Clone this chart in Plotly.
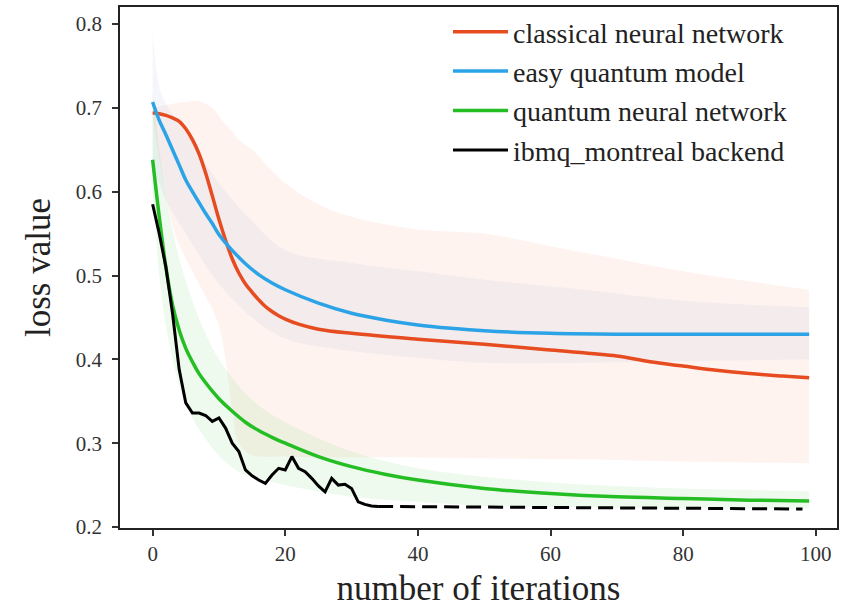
import plotly.graph_objects as go

# ---------------- data ----------------
cnn_x = [0, 1, 2, 3, 4, 5, 6, 7, 8, 9, 10, 11, 12, 13, 14, 15, 16, 17, 18, 19, 20,
         22, 25, 30, 40, 50, 60, 70, 75, 80, 85, 90, 95, 99]
cnn_y = [0.694, 0.693, 0.691, 0.688, 0.684, 0.675, 0.662, 0.645, 0.622, 0.595, 0.567,
         0.542, 0.520, 0.503, 0.490, 0.480, 0.471, 0.463, 0.457, 0.452, 0.448,
         0.442, 0.436, 0.431, 0.424, 0.418, 0.411, 0.404, 0.397, 0.392, 0.387,
         0.383, 0.380, 0.378]
cnn_band_x = [0, 3, 5, 7, 9, 10, 11, 12, 13, 15, 20, 25, 30, 40, 50, 60, 70, 80, 90, 99]
cnn_upper = [0.700, 0.705, 0.707, 0.708, 0.700, 0.690, 0.680, 0.672, 0.662, 0.650,
             0.610, 0.585, 0.570, 0.555, 0.550, 0.535, 0.520, 0.505, 0.493, 0.483]
cnn_lower = [0.690, 0.560, 0.520, 0.490, 0.460, 0.440, 0.400, 0.340, 0.300, 0.286,
             0.284, 0.283, 0.283, 0.283, 0.282, 0.281, 0.280, 0.278, 0.277, 0.276]

eqm_x = [0, 1, 2, 3, 4, 5, 6, 7, 8, 9, 10, 11, 12, 14, 16, 18, 20, 25, 30, 35, 40,
         45, 50, 60, 70, 80, 99]
eqm_y = [0.707, 0.685, 0.668, 0.650, 0.632, 0.614, 0.600, 0.587, 0.574, 0.562, 0.549,
         0.539, 0.530, 0.514, 0.501, 0.491, 0.483, 0.467, 0.455, 0.447, 0.441,
         0.437, 0.434, 0.431, 0.430, 0.430, 0.430]
eqm_band_x = [0, 1, 2, 5, 10, 15, 20, 30, 40, 50, 65, 80, 99]
eqm_upper = [0.790, 0.725, 0.705, 0.670, 0.610, 0.565, 0.530, 0.515, 0.505, 0.495,
             0.483, 0.470, 0.462]
eqm_lower = [0.630, 0.610, 0.590, 0.550, 0.490, 0.450, 0.425, 0.410, 0.402, 0.396,
             0.396, 0.398, 0.400]

qnn_x = [0, 1, 2, 3, 4, 5, 6, 7, 8, 9, 10, 12, 14, 16, 18, 20, 25, 30, 35, 40, 50,
         60, 70, 80, 90, 99]
qnn_y = [0.638, 0.570, 0.510, 0.465, 0.435, 0.413, 0.397, 0.383, 0.372, 0.362, 0.353,
         0.338, 0.325, 0.315, 0.307, 0.300, 0.284, 0.272, 0.263, 0.256, 0.246,
         0.240, 0.236, 0.234, 0.232, 0.231]
qnn_band_x = [0, 1, 2, 3, 4, 6, 8, 10, 13, 16, 20, 30, 40, 50, 60, 70, 80, 99]
qnn_upper = [0.720, 0.650, 0.595, 0.555, 0.520, 0.470, 0.430, 0.400, 0.368, 0.345,
             0.325, 0.290, 0.270, 0.260, 0.253, 0.249, 0.246, 0.243]
qnn_lower = [0.600, 0.500, 0.440, 0.400, 0.370, 0.330, 0.305, 0.285, 0.266, 0.258,
             0.250, 0.236, 0.230, 0.225, 0.224, 0.223, 0.222, 0.222]

ibm_x = list(range(0, 35))
ibm_y = [0.585, 0.550, 0.510, 0.455, 0.388, 0.348, 0.336, 0.336, 0.333, 0.326,
         0.330, 0.318, 0.300, 0.290, 0.268, 0.261, 0.256, 0.252, 0.262, 0.270,
         0.268, 0.284, 0.270, 0.266, 0.258, 0.249, 0.242, 0.258, 0.250, 0.251,
         0.246, 0.230, 0.227, 0.225, 0.2245]
ibm_ext_x = [34, 50, 70, 98]
ibm_ext_y = [0.2245, 0.2235, 0.2228, 0.2215]

labels = ["classical neural network", "easy quantum model",
          "quantum neural network", "ibmq_montreal backend"]

# ---------------- styling ----------------
RED = "rgb(230,76,32)"
BLUE = "rgb(44,163,230)"
GREEN = "rgb(36,190,36)"
BLACK = "rgb(0,0,0)"
FONT = "Liberation Serif"

fig = go.Figure()


def band(xs, lo, hi, rgba):
    fig.add_trace(go.Scatter(x=xs, y=lo, mode="lines", line=dict(width=0, shape="spline"),
                             showlegend=False, hoverinfo="skip"))
    fig.add_trace(go.Scatter(x=xs, y=hi, mode="lines", line=dict(width=0, shape="spline"),
                             fill="tonexty", fillcolor=rgba, showlegend=False,
                             hoverinfo="skip"))


band(cnn_band_x, cnn_lower, cnn_upper, "rgba(240,120,80,0.09)")
band(eqm_band_x, eqm_lower, eqm_upper, "rgba(130,160,210,0.09)")
band(qnn_band_x, qnn_lower, qnn_upper, "rgba(70,200,70,0.09)")

fig.add_trace(go.Scatter(x=cnn_x, y=cnn_y, mode="lines", name=labels[0],
                         line=dict(color=RED, width=3.5, shape="spline")))
fig.add_trace(go.Scatter(x=eqm_x, y=eqm_y, mode="lines", name=labels[1],
                         line=dict(color=BLUE, width=3.5, shape="spline")))
fig.add_trace(go.Scatter(x=qnn_x, y=qnn_y, mode="lines", name=labels[2],
                         line=dict(color=GREEN, width=3.5, shape="spline")))
fig.add_trace(go.Scatter(x=ibm_x, y=ibm_y, mode="lines", name=labels[3],
                         line=dict(color=BLACK, width=3)))
fig.add_trace(go.Scatter(x=ibm_ext_x, y=ibm_ext_y, mode="lines", showlegend=False,
                         line=dict(color=BLACK, width=3, dash="15px,7px")))

axis_common = dict(
    showgrid=False, zeroline=False, showline=True, linecolor="#222", linewidth=1.5,
    mirror=True, ticks="outside", ticklen=6, tickwidth=1.5, tickcolor="#333",
    tickfont=dict(family=FONT, size=21, color="#333"), automargin=False,
)

fig.update_layout(
    width=845, height=608,
    margin=dict(l=120, r=8, t=7, b=80),
    paper_bgcolor="white", plot_bgcolor="white",
    font=dict(family=FONT, color="#222"),
    xaxis=dict(range=[-4.92, 103.2], tickvals=[0, 20, 40, 60, 80, 100],
               title=dict(text="number of iterations", font=dict(family=FONT, size=35, color="#222"),
                          standoff=16),
               **axis_common),
    yaxis=dict(range=[0.1988, 0.8203], tickvals=[0.2, 0.3, 0.4, 0.5, 0.6, 0.7, 0.8],
               tickformat=".1f", ticklabelstandoff=6,
               title=dict(text="loss value", font=dict(family=FONT, size=35, color="#222"),
                          standoff=15),
               **axis_common),
    legend=dict(x=(448 - 120) / 717, y=1.0, xanchor="left", yanchor="top",
                bgcolor="rgba(255,255,255,0)", borderwidth=0, traceorder="normal",
                font=dict(family=FONT, size=28, color="#222"),
                itemwidth=55),
    showlegend=True,
)

fig.write_html("out.html")
